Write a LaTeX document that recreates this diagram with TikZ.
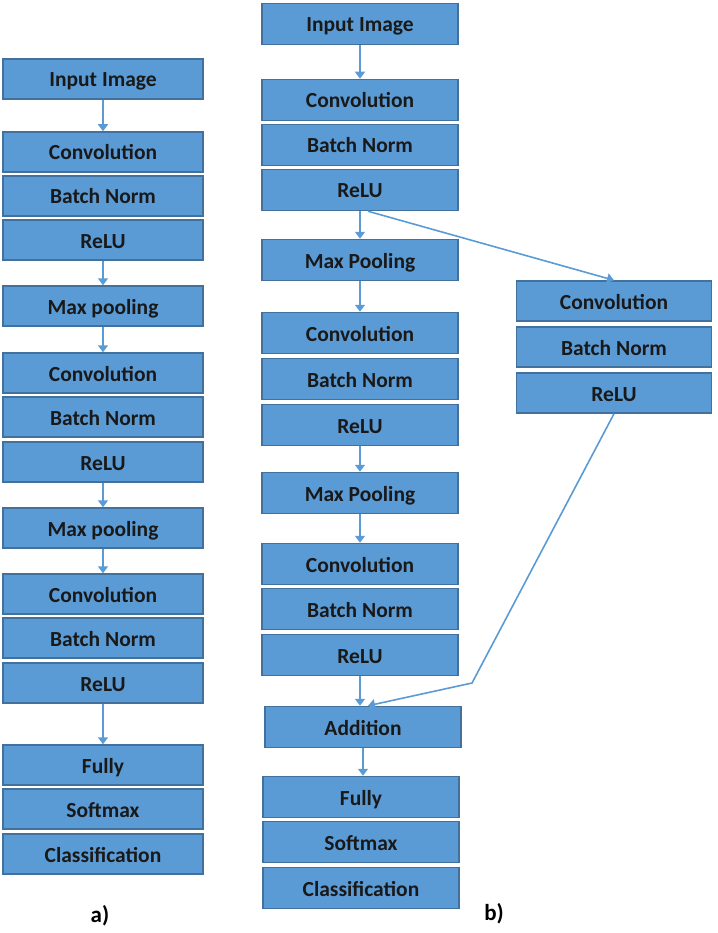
\documentclass[tikz,border=0pt]{standalone}
\usepackage{fontspec}
\setmainfont{Carlito}
\usepackage{tikz}
\usetikzlibrary{positioning,
        arrows.meta}
\definecolor{boxblue}{HTML}{5B9BD5}
\definecolor{boxedge}{HTML}{41719C}

\begin{document}
\begin{tikzpicture}[x=1pt,y=-1pt,
    layer/.style={rectangle,draw=boxedge,fill=boxblue,line width=1.5pt,
        text=black!90,font=\fontsize{21.5}{25}\selectfont\bfseries,
        inner sep=0pt,text height=16pt,text depth=0pt},
    layA/.style={layer,minimum width=200pt,minimum height=40pt},
    layB/.style={layer,minimum width=196pt,minimum height=41pt},
    flow/.style={-{Triangle[width=10pt,length=7pt]},draw=boxblue,line width=1.6pt},
    tag/.style={font=\fontsize{23}{27}\selectfont\bfseries}]
    \useasboundingbox (0,0) rectangle (717,933);

    % a) plain network
    \node [layA] (inA) at (103,79) {Input Image};
    \node [layA] (convA1) at (103,152) {Convolution};
    \node [layA] (bnA1) at (103,196) {Batch Norm};
    \node [layA] (reluA1) at (103,240) {ReLU};
    \node [layA] (poolA1) at (103,306) {Max pooling};
    \node [layA] (convA2) at (103,373) {Convolution};
    \node [layA] (bnA2) at (103,417) {Batch Norm};
    \node [layA] (reluA2) at (103,462) {ReLU};
    \node [layA] (poolA2) at (103,528) {Max pooling};
    \node [layA] (convA3) at (103,594) {Convolution};
    \node [layA] (bnA3) at (103,638) {Batch Norm};
    \node [layA] (reluA3) at (103,683) {ReLU};
    \node [layA] (fcA) at (103,765) {Fully};
    \node [layA] (smA) at (103,809) {Softmax};
    \node [layA] (clsA) at (103,854) {Classification};
    \node [tag] (capA) at (100,916) {a)};

    % b) network with shortcut
    \node [layB] (inB) at (360,24) {Input Image};
    \node [layB] (convB1) at (360,100) {Convolution};
    \node [layB] (bnB1) at (360,145) {Batch Norm};
    \node [layB] (reluB1) at (360,190) {ReLU};
    \node [layB] (poolB1) at (360,260) {Max Pooling};
    \node [layB] (convB2) at (360,333) {Convolution};
    \node [layB] (bnB2) at (360,379) {Batch Norm};
    \node [layB] (reluB2) at (360,425) {ReLU};
    \node [layB] (poolB2) at (360,493) {Max Pooling};
    \node [layB] (convB3) at (360,564) {Convolution};
    \node [layB] (bnB3) at (360,609) {Batch Norm};
    \node [layB] (reluB3) at (360,655) {ReLU};
    \node [layB] (addB) at (363,727) {Addition};
    \node [layB] (fcB) at (361,797) {Fully};
    \node [layB] (smB) at (361,842) {Softmax};
    \node [layB] (clsB) at (361,888) {Classification};
    \node [tag] (capB) at (494,914) {b)};

    \node [layA,minimum width=195pt] (convS) at (614,301) {Convolution};
    \node [layA,minimum width=195pt] (bnS) at (614,347) {Batch Norm};
    \node [layA,minimum width=195pt] (reluS) at (614,393) {ReLU};
    \coordinate (bend) at (472,683);

    \draw [flow] (inA) -- (convA1);
    \draw [flow] (reluA1) -- (poolA1);
    \draw [flow] (poolA1) -- (convA2);
    \draw [flow] (reluA2) -- (poolA2);
    \draw [flow] (poolA2) -- (convA3);
    \draw [flow] (reluA3) -- (fcA);

    \draw [flow] (inB) -- (convB1);
    \draw [flow] (reluB1) -- (poolB1);
    \draw [flow] (poolB1) -- (convB2);
    \draw [flow] (reluB2) -- (poolB2);
    \draw [flow] (poolB2) -- (convB3);
    \draw [flow] (reluB3.south) -- (reluB3.south |- addB.north);
    \draw [flow] (addB) -- (addB |- fcB.north);
    \draw [flow] ([xshift=8pt]reluB1.south) -- (convS.north);
    \draw [flow] (reluS.south) -- (bend) -- ([xshift=5pt]addB.north);
\end{tikzpicture}
\end{document}
